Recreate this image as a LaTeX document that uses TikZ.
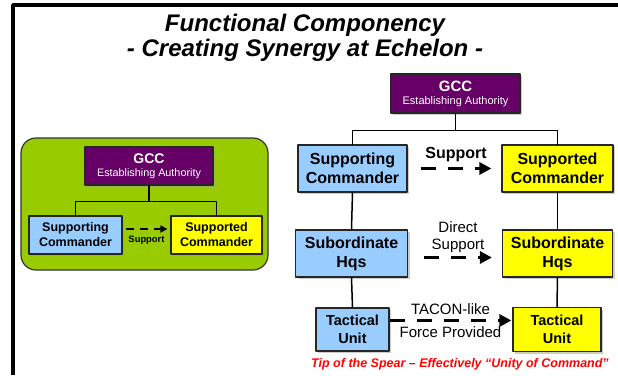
\documentclass[tikz,border=0pt]{standalone}
\usepackage{fontspec}
\setmainfont{Liberation Sans}
\usepackage{tikz}
\usetikzlibrary{arrows.meta}
\usetikzlibrary{shadows}

\definecolor{gccpurple}{HTML}{660066}
\definecolor{suppblue}{HTML}{99CCFF}
\definecolor{suppyellow}{HTML}{FFFF00}
\definecolor{panelgreen}{HTML}{99CC00}

\tikzset{
  box/.style={draw=black!85, line width=1.2pt, align=center, inner sep=0pt,
    drop shadow={shadow xshift=2pt, shadow yshift=-2pt, fill=black!40}},
  gccbox/.style={box, fill=gccpurple, text=white},
  ingbox/.style={box, fill=suppblue},
  edbox/.style={box, fill=suppyellow},
  link/.style={line width=1.5pt},
  bigdash/.style={line width=3.5pt, line cap=butt, dash pattern=on 15pt off 12pt,
    -{Triangle[length=12pt,width=12pt]}},
  smalldash/.style={line width=2.5pt, line cap=butt, dash pattern=on 8pt off 6pt,
    -{Triangle[length=7pt,width=7pt]}}
}

\begin{document}
\begin{tikzpicture}[line cap=round,line join=round,x=1pt,y=-1pt]
        \useasboundingbox (0,0) rectangle (618,375);
        \draw[line width=3.5pt,line cap=butt] (13,375) -- (13,5) -- (618,5);

        \node[align=center,font=\bfseries\itshape\fontsize{24}{25}\selectfont] (title) at (305,38)
            {Functional Componency\\- Creating Synergy at Echelon -};

        \filldraw[fill=panelgreen,draw=black!80,line width=1.2pt,rounded corners=15pt] (21,138) rectangle (268,270);

        \node[gccbox,minimum width=128,minimum height=38] (pgcc) at (149,166)
            {{\bfseries\fontsize{14}{16}\selectfont GCC}\\[1pt]{\fontsize{10.8}{12}\selectfont Establishing Authority}};
        \node[ingbox,minimum width=93,minimum height=38,font=\bfseries\fontsize{12.5}{15}\selectfont] (psupporting) at (75.5,235)
            {Supporting\\Commander};
        \node[edbox,minimum width=91,minimum height=38,font=\bfseries\fontsize{12.5}{15}\selectfont] (psupported) at (216.5,235)
            {Supported\\Commander};

        \draw[link] (pgcc.south) -- ++(0,16) -| (psupporting.north);
        \draw[link] (pgcc.south) -- ++(0,16) -| (psupported.north);
        \draw[smalldash] ([xshift=3pt,yshift=6pt]psupporting.east) -- ([xshift=-3pt,yshift=6pt]psupported.west)
            node[midway,below=2pt,font=\bfseries\fontsize{9.4}{11}\selectfont] {Support};

        \node[gccbox,minimum width=129,minimum height=39] (gcc) at (455.5,93.5)
            {{\bfseries\fontsize{15}{17}\selectfont GCC}\\[1pt]{\fontsize{11}{13}\selectfont Establishing Authority}};
        \node[ingbox,minimum width=109,minimum height=47,font=\bfseries\fontsize{16}{19}\selectfont] (supporting) at (352.5,168.5)
            {Supporting\\Commander};
        \node[edbox,minimum width=111,minimum height=47,font=\bfseries\fontsize{16}{19}\selectfont] (supported) at (557.5,168.5)
            {Supported\\Commander};
        \node[ingbox,minimum width=112,minimum height=47,font=\bfseries\fontsize{16}{19}\selectfont] (subLeft) at (351.5,253.5)
            {Subordinate\\Hqs};
        \node[edbox,minimum width=110,minimum height=47,font=\bfseries\fontsize{16}{19}\selectfont] (subRight) at (557.5,253.5)
            {Subordinate\\Hqs};
        \node[ingbox,minimum width=73,minimum height=43,font=\bfseries\fontsize{14.5}{18}\selectfont] (tacLeft) at (352.5,329.5)
            {Tactical\\Unit};
        \node[edbox,minimum width=88,minimum height=44,font=\bfseries\fontsize{14.5}{18}\selectfont] (tacRight) at (557,329.5)
            {Tactical\\Unit};

        \draw[link] (gcc.south) -- ++(0,17) -| (supporting.north);
        \draw[link] (gcc.south) -- ++(0,17) -| (supported.north);
        \draw[link] (supporting.south) -- (subLeft.north);
        \draw[link] (subLeft.south) -- (tacLeft.north);
        \draw[link] (supported.south) -- (subRight.north);
        \draw[link] (subRight.south) -- (tacRight.north);

        \draw[bigdash] ([xshift=13pt]supporting.east) -- ([xshift=-10pt]supported.west)
            node[midway,above=2pt,font=\bfseries\fontsize{16}{19}\selectfont] {Support};
        \draw[bigdash] ([xshift=16pt,yshift=-4pt]subLeft.east) -- ([xshift=-10pt,yshift=-4pt]subRight.west)
            node[midway,above=0pt,align=center,font=\fontsize{15}{17}\selectfont] {Direct\\Support};
        \draw[bigdash] ([yshift=9pt]tacLeft.east) -- ([xshift=-1pt,yshift=9pt]tacRight.west)
            node[midway,above=1pt,font=\fontsize{15}{17}\selectfont] {TACON-like}
            node[midway,below=1pt,font=\fontsize{15}{17}\selectfont] {Force Provided};

        \node[text=red,font=\bfseries\itshape\fontsize{12.5}{15}\selectfont] (tip) at (460,364)
            {Tip of the Spear -- Effectively ``Unity of Command''};
    \end{tikzpicture}
\end{document}
